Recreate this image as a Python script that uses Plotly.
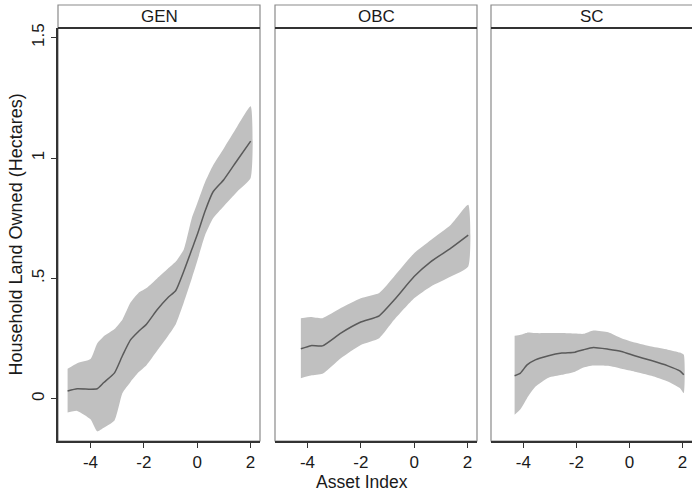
import plotly.graph_objects as go

# ---------------- data ----------------
panels = ["GEN", "OBC", "SC"]

gen_x = [-4.86, -4.5, -4.0, -3.75, -3.5, -3.1, -2.8, -2.5, -2.2, -1.9, -1.5, -1.1, -0.8, -0.5, -0.2, 0.0, 0.3, 0.6, 1.0, 1.5, 2.01]
gen_mid = [0.033, 0.042, 0.040, 0.042, 0.068, 0.108, 0.18, 0.245, 0.28, 0.31, 0.37, 0.42, 0.45, 0.53, 0.62, 0.68, 0.78, 0.86, 0.91, 0.99, 1.07]
gen_hi = [0.125, 0.148, 0.165, 0.23, 0.26, 0.29, 0.33, 0.40, 0.44, 0.46, 0.50, 0.54, 0.57, 0.62, 0.75, 0.81, 0.90, 0.97, 1.04, 1.13, 1.215]
gen_lo = [-0.057, -0.05, -0.085, -0.135, -0.12, -0.09, 0.024, 0.07, 0.11, 0.14, 0.20, 0.26, 0.31, 0.40, 0.50, 0.57, 0.68, 0.75, 0.80, 0.86, 0.917]

obc_x = [-4.25, -3.87, -3.44, -2.75, -2.0, -1.31, -0.75, 0.0, 0.63, 1.38, 2.03]
obc_mid = [0.208, 0.221, 0.220, 0.273, 0.319, 0.345, 0.41, 0.508, 0.57, 0.626, 0.68]
obc_hi = [0.335, 0.34, 0.335, 0.377, 0.418, 0.44, 0.508, 0.605, 0.66, 0.723, 0.806]
obc_lo = [0.086, 0.097, 0.104, 0.169, 0.224, 0.252, 0.328, 0.418, 0.467, 0.508, 0.55]

sc_x = [-4.33, -4.11, -3.86, -3.55, -3.05, -2.55, -2.05, -1.73, -1.36, -0.8, -0.3, 0.2, 0.83, 1.45, 1.9, 2.05]
sc_mid = [0.096, 0.107, 0.141, 0.162, 0.179, 0.19, 0.194, 0.204, 0.213, 0.206, 0.197, 0.179, 0.159, 0.137, 0.116, 0.10]
sc_hi = [0.262, 0.266, 0.275, 0.273, 0.273, 0.273, 0.271, 0.27, 0.284, 0.277, 0.252, 0.234, 0.217, 0.204, 0.192, 0.183]
sc_lo = [-0.066, -0.043, 0.003, 0.050, 0.088, 0.100, 0.113, 0.13, 0.138, 0.137, 0.125, 0.113, 0.096, 0.072, 0.045, 0.024]

x_ticks = [-4, -2, 0, 2]
x_tick_text = ["-4", "-2", "0", "2"]
y_ticks = [0, 0.5, 1, 1.5]
y_tick_text = ["0", ".5", "1", "1.5"]

series = [(gen_x, gen_mid, gen_hi, gen_lo), (obc_x, obc_mid, obc_hi, obc_lo), (sc_x, sc_mid, sc_hi, sc_lo)]

# ---------------- layout geometry ----------------
W, H = 692, 493
ml, mr, mt, mb = 58, 0, 5, 52
pw = W - ml - mr
ph = H - mt - mb
px_dom = [(58, 260), (275, 477), (491, 693)]
x_domains = [((a - ml) / pw, min(1.0, (b - ml) / pw)) for a, b in px_dom]
y_top = (441 - 28) / ph

FONT = "Liberation Sans, Arial, sans-serif"
TXT = "#1a1a1a"
BAND = "rgb(192,192,192)"
LINE = "rgb(90,90,90)"

fig = go.Figure()
for i, (xs, mid, hi, lo) in enumerate(series):
    xa = "x" if i == 0 else f"x{i+1}"
    ya = "y" if i == 0 else f"y{i+1}"
    fig.add_trace(go.Scatter(x=xs + xs[::-1], y=hi + lo[::-1], fill="toself",
                             fillcolor=BAND, line=dict(width=0, shape="spline", smoothing=0.5),
                             mode="lines", xaxis=xa, yaxis=ya, showlegend=False, hoverinfo="skip"))
    fig.add_trace(go.Scatter(x=xs, y=mid, mode="lines",
                             line=dict(color=LINE, width=1.5, shape="spline", smoothing=0.5),
                             xaxis=xa, yaxis=ya, showlegend=False))

layout = dict(
    width=W, height=H, margin=dict(l=ml, r=mr, t=mt, b=mb),
    paper_bgcolor="white", plot_bgcolor="white",
    font=dict(family=FONT, color=TXT, size=16),
    showlegend=False,
)
shapes = []
annotations = []
for i in range(3):
    sfx = "" if i == 0 else str(i + 1)
    layout["xaxis" + sfx] = dict(
        domain=list(x_domains[i]), anchor="y" + sfx, range=[-5.22, 2.36],
        tickvals=x_ticks, ticktext=x_tick_text, ticks="outside", ticklen=5,
        tickcolor="#333", tickwidth=1, showline=True, linecolor="#333", linewidth=1.5,
        showgrid=False, zeroline=False, tickfont=dict(size=17, color=TXT),
    )
    ydict = dict(domain=[0, y_top], anchor="x" + sfx, range=[-0.175, 1.54],
                 showgrid=False, zeroline=False)
    if i == 0:
        ydict.update(tickvals=y_ticks, ticktext=y_tick_text, ticks="outside", ticklen=5,
                     tickcolor="#333", tickwidth=1, showline=True, linecolor="#333",
                     linewidth=1.5, tickangle=-90, tickfont=dict(size=17, color=TXT))
    else:
        ydict.update(showticklabels=False, ticks="", showline=False)
    layout["yaxis" + sfx] = ydict

    x0, x1 = x_domains[i]
    x1b = x1 + (0.005 if i == 2 else 0)
    shapes.append(dict(type="rect", xref="paper", yref="paper", x0=x0, x1=x1b, y0=0, y1=1,
                       line=dict(color="#8a8a8a", width=1.2), fillcolor="rgba(0,0,0,0)", layer="below"))
    shapes.append(dict(type="line", xref="paper", yref="paper", x0=x0, x1=x1b, y0=y_top, y1=y_top,
                       line=dict(color="#333", width=2)))
    annotations.append(dict(text=panels[i], xref="paper", yref="paper", x=(x0 + x1) / 2,
                            y=(y_top + 1) / 2, showarrow=False, xanchor="center", yanchor="middle",
                            font=dict(size=17, color=TXT)))

annotations.append(dict(text="Household Land Owned (Hectares)", xref="paper", yref="paper",
                        x=(15 - ml) / pw, y=y_top / 2, textangle=-90, showarrow=False,
                        xanchor="center", yanchor="middle", font=dict(size=18, color=TXT)))
annotations.append(dict(text="Asset Index", xref="paper", yref="paper",
                        x=(361.5 - ml) / pw, y=-(482 - 441) / ph, showarrow=False,
                        xanchor="center", yanchor="middle", font=dict(size=17.5, color=TXT)))

layout["shapes"] = shapes
layout["annotations"] = annotations
fig.update_layout(**layout)
fig.write_html("out.html", config={"displayModeBar": False},
               post_script="document.body.style.margin='0';document.body.style.overflow='hidden';")
